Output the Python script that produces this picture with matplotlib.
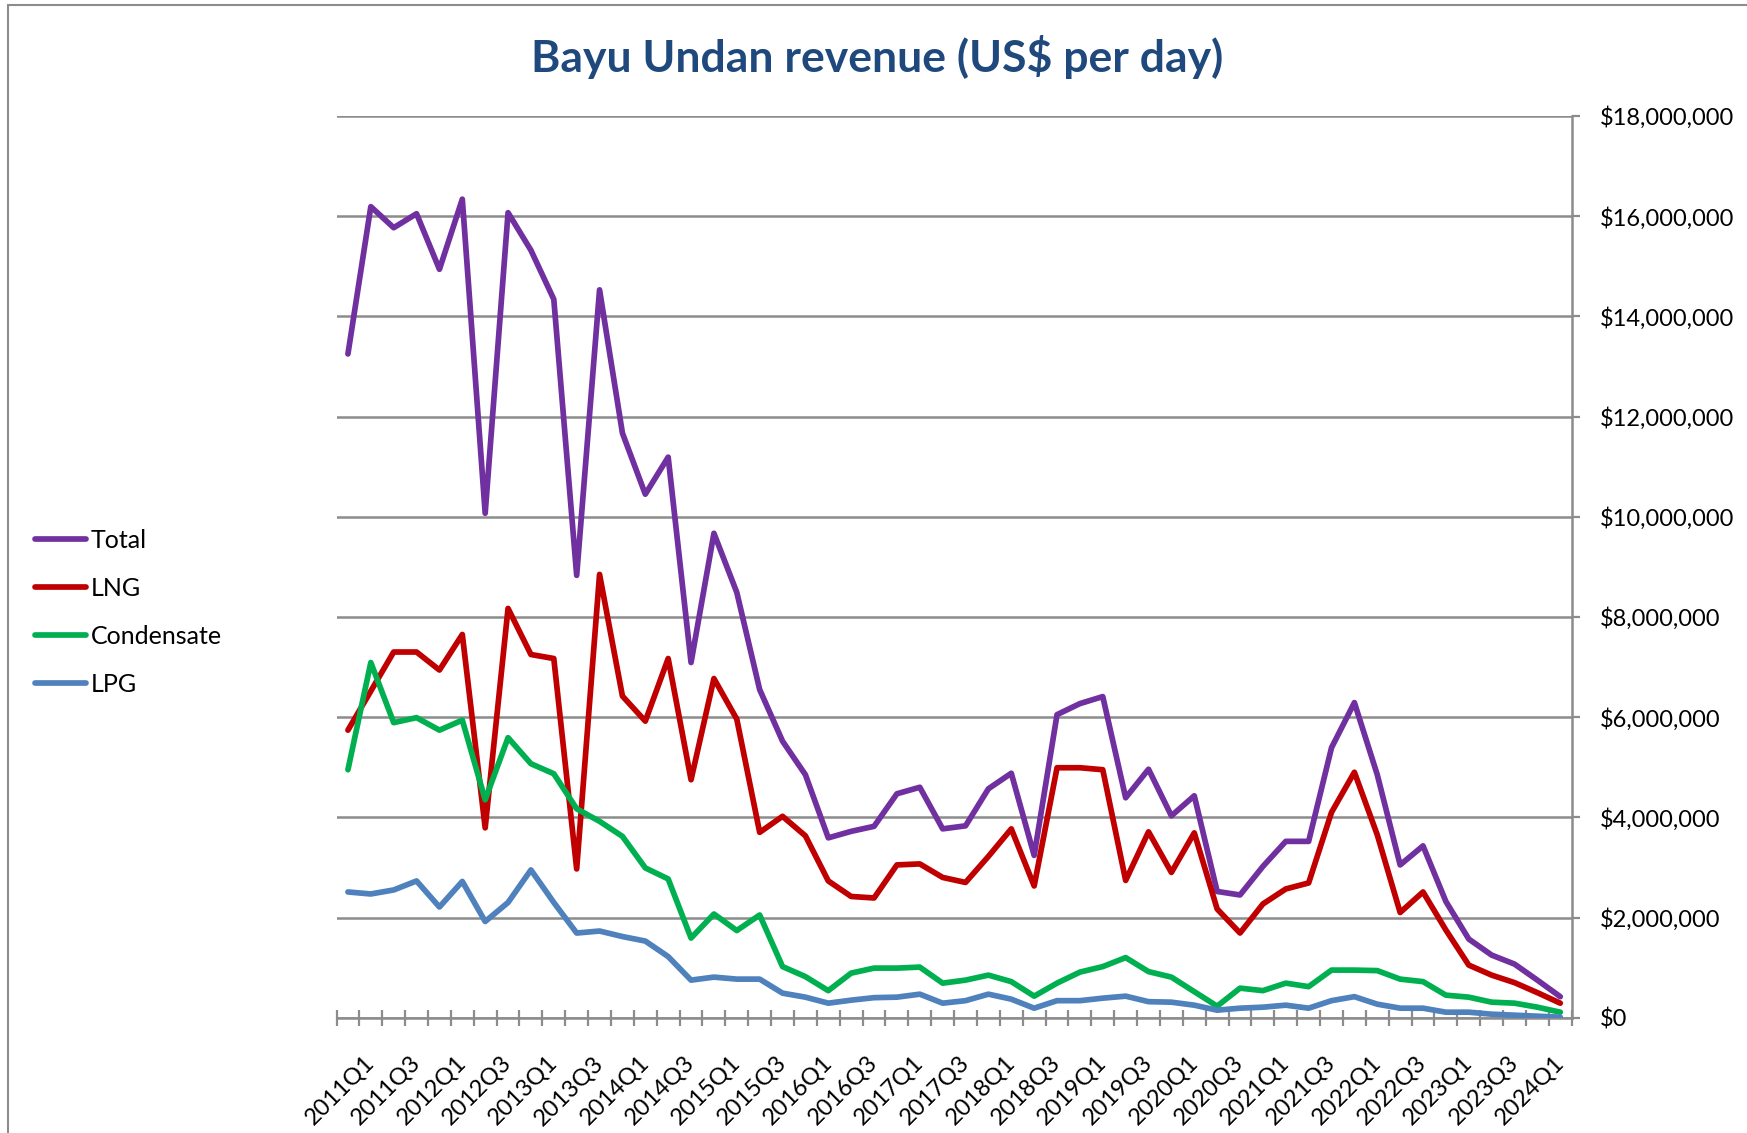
import numpy as np
import matplotlib
matplotlib.use("Agg")
import matplotlib.pyplot as plt
from matplotlib.ticker import FuncFormatter, FixedLocator, MultipleLocator
from matplotlib.patches import Rectangle

# ---------------- data (US$ million per day), 2010Q4 .. 2024Q1 ----------------
quarters = [f"{y}Q{q}" for y in range(2010, 2025) for q in range(1, 5)]
quarters = quarters[quarters.index("2010Q4"):quarters.index("2024Q1") + 1]

total = [13.25, 16.19, 15.77, 16.05, 14.94, 16.34, 10.07, 16.07, 15.32, 14.34,
         8.83, 14.53, 11.67, 10.45, 11.19, 7.09, 9.67, 8.49, 6.55, 5.52,
         4.85, 3.59, 3.72, 3.82, 4.47, 4.60, 3.77, 3.83, 4.57, 4.88,
         3.24, 6.05, 6.27, 6.41, 4.39, 4.96, 4.03, 4.43, 2.52, 2.45,
         3.02, 3.52, 3.52, 5.39, 6.29, 4.85, 3.05, 3.43, 2.32, 1.57,
         1.25, 1.07, 0.75, 0.42]
lng = [5.74, 6.52, 7.30, 7.30, 6.94, 7.65, 3.79, 8.17, 7.25, 7.17,
       2.97, 8.85, 6.42, 5.92, 7.17, 4.75, 6.77, 5.96, 3.70, 4.02,
       3.63, 2.73, 2.42, 2.39, 3.05, 3.07, 2.80, 2.70, 3.22, 3.77,
       2.63, 4.99, 4.99, 4.95, 2.74, 3.71, 2.90, 3.69, 2.17, 1.69,
       2.27, 2.57, 2.69, 4.10, 4.90, 3.65, 2.10, 2.51, 1.75, 1.05,
       0.85, 0.70, 0.50, 0.29]
condensate = [4.95, 7.09, 5.89, 5.99, 5.74, 5.94, 4.35, 5.59, 5.07, 4.87,
              4.17, 3.92, 3.62, 2.99, 2.77, 1.59, 2.07, 1.74, 2.05, 1.02,
              0.82, 0.54, 0.89, 0.99, 0.99, 1.01, 0.69, 0.75, 0.85, 0.72,
              0.43, 0.69, 0.91, 1.02, 1.20, 0.92, 0.81, 0.52, 0.23, 0.59,
              0.54, 0.69, 0.62, 0.95, 0.95, 0.94, 0.77, 0.72, 0.45, 0.41,
              0.31, 0.29, 0.21, 0.11]
lpg = [2.51, 2.47, 2.55, 2.73, 2.21, 2.72, 1.92, 2.30, 2.95, 2.30,
       1.69, 1.73, 1.62, 1.53, 1.22, 0.75, 0.81, 0.77, 0.77, 0.49,
       0.41, 0.29, 0.35, 0.40, 0.41, 0.47, 0.29, 0.34, 0.47, 0.37,
       0.19, 0.34, 0.34, 0.39, 0.43, 0.32, 0.31, 0.25, 0.15, 0.19,
       0.21, 0.25, 0.19, 0.34, 0.42, 0.27, 0.19, 0.19, 0.11, 0.11,
       0.07, 0.05, 0.03, 0.01]

series_names = ["Total", "LNG", "Condensate", "LPG"]
series_values = [total, lng, condensate, lpg]
series_colors = ["#7030A0", "#C00000", "#00B050", "#4F81BD"]

title = "Bayu Undan revenue (US$ per day)"

# ---------------- figure ----------------
W, H = 1747, 1133
fig = plt.figure(figsize=(W / 100, H / 100), dpi=100)
fig.patch.set_facecolor("white")
FONT = "Lato"
grid_c = "#8C8C8C"

ax = fig.add_axes([336.5 / W, 1 - 1017.7 / H, (1571.7 - 336.5) / W, (1017.7 - 116) / H])

x = np.arange(len(quarters))
for name, vals, col in zip(series_names, series_values, series_colors):
    ax.plot(x, np.array(vals) * 1e6, color=col, lw=4.1, label=name,
            solid_joinstyle="round", solid_capstyle="round", zorder=3)

ax.set_xlim(-0.5, len(quarters) - 0.5)
ax.set_ylim(0, 18e6)

# y axis on the right
ax.yaxis.tick_right()
ax.yaxis.set_major_locator(MultipleLocator(2e6))
ax.yaxis.set_major_formatter(FuncFormatter(lambda v, p: f"${v:,.0f}"))
ax.tick_params(axis="y", which="major", direction="out", length=6, width=1.6,
               color=grid_c, pad=14, labelsize=17, labelcolor="black")
for lab in ax.get_yticklabels():
    lab.set_fontfamily(FONT)
ax.grid(axis="y", color=grid_c, lw=1.8, zorder=1)
ax.set_axisbelow(True)

# x axis: ticks at category boundaries, labels on every other category
ax.xaxis.set_minor_locator(FixedLocator(np.arange(-0.5, len(quarters), 1.0)))
lab_idx = [i for i in range(len(quarters)) if i % 2 == 1]
ax.xaxis.set_major_locator(FixedLocator(lab_idx))
ax.set_xticklabels([quarters[i] for i in lab_idx], rotation=45, ha="right",
                   va="center", rotation_mode="anchor", fontsize=17, fontfamily=FONT)
ax.tick_params(axis="x", which="minor", direction="inout", length=11, width=1.6, color=grid_c)
ax.tick_params(axis="x", which="major", length=0, pad=30)

for s in ["top", "left"]:
    ax.spines[s].set_visible(False)
for s in ["bottom", "right"]:
    ax.spines[s].set_color(grid_c)
    ax.spines[s].set_linewidth(1.8)

# title
fig.text(877 / W, 1 - 57 / H, title, ha="center", va="center", fontsize=32,
         fontweight="bold", color="#1F497D", fontfamily=FONT)

# legend on the left
leg = fig.legend(loc="center left", bbox_to_anchor=(12 / W, 1 - 612 / H), frameon=False,
                 handlelength=2.05, handletextpad=0.2, labelspacing=1.0,
                 prop={"family": FONT, "size": 18})

# chart border
fig.add_artist(Rectangle((8 / W, -0.05), 1.2, 1.05 - 4.5 / H, transform=fig.transFigure,
                         fill=False, edgecolor=grid_c, lw=1.5))

fig.savefig("out.png", dpi=100, facecolor="white")
